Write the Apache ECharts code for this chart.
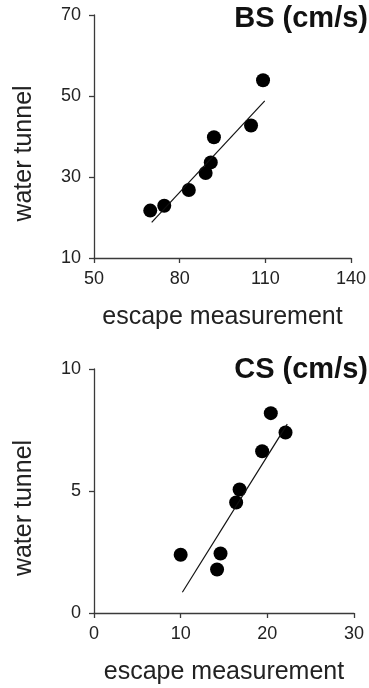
<!DOCTYPE html>
<html>
<head>
<meta charset="utf-8">
<script src="https://cdn.jsdelivr.net/npm/echarts@6/dist/echarts.min.js"></script>
<style>
  html, body { margin: 0; padding: 0; background: #fff; }
  #chart { width: 369px; height: 688px; }
</style>
</head>
<body>
<div id="chart"></div>
<script>
// BS panel (cm/s)
const bsEscape = [69.7, 74.6, 83.2, 89.1, 90.9, 92.0, 105.0, 109.2];
const bsTunnel = [21.7, 22.9, 26.8, 31.0, 33.6, 39.8, 42.7, 53.9];
const bsFitX = [70.2, 109.8];
const bsFitY = [18.8, 48.8];

// CS panel (cm/s)
const csEscape = [10.0, 14.6, 14.2, 16.4, 16.8, 19.4, 20.4, 22.1];
const csTunnel = [2.39, 2.44, 1.78, 4.53, 5.06, 6.63, 8.19, 7.40];
const csFitX = [10.2, 22.3];
const csFitY = [0.85, 7.74];

const titles = ['BS (cm/s)', 'CS (cm/s)'];
const xName = 'escape measurement';
const yName = 'water tunnel';

const font = 'Liberation Sans, Arial, Helvetica, sans-serif';
const axisColor = '#3a3a3a';
const textColor = '#222';

const pairs = (xs, ys) => xs.map((x, i) => [x, ys[i]]);

const makeX = (idx, min, max, step) => ({
  type: 'value', gridIndex: idx, min: min, max: max, interval: step,
  name: xName, nameLocation: 'middle', nameGap: 47,
  nameTextStyle: { fontFamily: font, fontSize: 25, color: textColor },
  axisLine: { show: true, lineStyle: { color: axisColor, width: 1.3 } },
  axisTick: { show: true, length: 5, lineStyle: { color: axisColor, width: 1.3 } },
  axisLabel: { margin: 12, fontFamily: font, fontSize: 18, color: textColor },
  splitLine: { show: false }
});

const makeY = (idx, min, max, step) => ({
  type: 'value', gridIndex: idx, min: min, max: max, interval: step,
  name: yName, nameLocation: 'middle', nameGap: 57, nameRotate: 90,
  nameTextStyle: { fontFamily: font, fontSize: 25, color: textColor, padding: [0, 34, 0, 0] },
  axisLine: { show: true, lineStyle: { color: axisColor, width: 1.3 } },
  axisTick: { show: true, length: 5, lineStyle: { color: axisColor, width: 1.3 } },
  axisLabel: { margin: 13, fontFamily: font, fontSize: 18, color: textColor },
  splitLine: { show: false }
});

const chart = echarts.init(document.getElementById('chart'));
chart.setOption({
  animation: false,
  backgroundColor: '#fff',
  title: [
    { text: titles[0], right: 1, top: 4, padding: 0,
      textStyle: { fontFamily: font, fontSize: 29, fontWeight: 'bold', color: '#111' } },
    { text: titles[1], right: 1, top: 355, padding: 0,
      textStyle: { fontFamily: font, fontSize: 29, fontWeight: 'bold', color: '#111' } }
  ],
  grid: [
    { left: 94, width: 260, top: 15, height: 243 },
    { left: 94, width: 260, top: 369, height: 244 }
  ],
  xAxis: [makeX(0, 50, 140, 30), makeX(1, 0, 30, 10)],
  yAxis: [makeY(0, 10, 70, 20), makeY(1, 0, 10, 5)],
  series: [
    {
      type: 'line', xAxisIndex: 0, yAxisIndex: 0,
      data: pairs(bsFitX, bsFitY), symbol: 'none',
      lineStyle: { color: '#111', width: 1.2 }
    },
    {
      type: 'scatter', xAxisIndex: 0, yAxisIndex: 0,
      data: pairs(bsEscape, bsTunnel), symbolSize: 14,
      itemStyle: { color: '#000', opacity: 1 }
    },
    {
      type: 'line', xAxisIndex: 1, yAxisIndex: 1,
      data: pairs(csFitX, csFitY), symbol: 'none',
      lineStyle: { color: '#111', width: 1.2 }
    },
    {
      type: 'scatter', xAxisIndex: 1, yAxisIndex: 1,
      data: pairs(csEscape, csTunnel), symbolSize: 14,
      itemStyle: { color: '#000', opacity: 1 }
    }
  ]
});
</script>
</body>
</html>
